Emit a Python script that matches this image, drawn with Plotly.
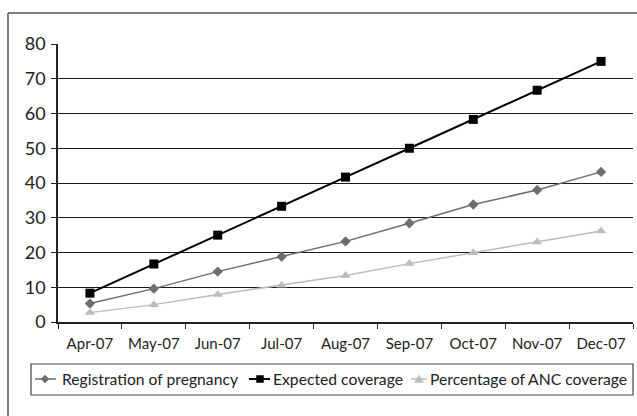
import plotly.graph_objects as go

months = ["Apr-07", "May-07", "Jun-07", "Jul-07", "Aug-07", "Sep-07", "Oct-07", "Nov-07", "Dec-07"]
registration = [5.3, 9.6, 14.5, 18.8, 23.2, 28.4, 33.8, 38.0, 43.2]
expected = [8.3, 16.7, 25.0, 33.3, 41.7, 50.0, 58.3, 66.7, 75.0]
anc = [2.7, 5.0, 7.9, 10.6, 13.4, 16.8, 19.9, 23.0, 26.2]
y_ticks = [0, 10, 20, 30, 40, 50, 60, 70, 80]
series_names = ["Registration of pregnancy", "Expected coverage", "Percentage of ANC coverage"]

W, H = 637, 416
L, R, T, B = 58, 4, 44, 94
pw, ph = W - L - R, H - T - B

def px(x):
    return (x - L) / pw

def py(y):
    return (H - B - y) / ph

REG_C, EXP_C, ANC_C = "#6e6e6e", "#000000", "#bcbcbc"

fig = go.Figure()
fig.add_trace(go.Scatter(x=months, y=registration, name=series_names[0],
                         mode="lines+markers",
                         line=dict(color=REG_C, width=1.5),
                         marker=dict(symbol="diamond", size=8, color=REG_C)))
fig.add_trace(go.Scatter(x=months, y=expected, name=series_names[1],
                         mode="lines+markers",
                         line=dict(color=EXP_C, width=2),
                         marker=dict(symbol="square", size=9, color=EXP_C)))
fig.add_trace(go.Scatter(x=months, y=anc, name=series_names[2],
                         mode="lines+markers",
                         line=dict(color=ANC_C, width=1.5),
                         marker=dict(symbol="triangle-up", size=9, color=ANC_C)))

font = "Lato, 'Open Sans', sans-serif"

# ---- manual legend (decoration in pixel positions) ----
ly = 379
shapes = [
    dict(type="line", xref="paper", yref="paper", x0=px(8), x1=px(637), y0=py(13), y1=py(13),
         line=dict(color="#555555", width=1.5)),
    dict(type="line", xref="paper", yref="paper", x0=px(8), x1=px(8), y0=py(13), y1=py(416),
         line=dict(color="#555555", width=1.5)),
    dict(type="rect", xref="paper", yref="paper", x0=px(31), x1=px(633), y0=py(364), y1=py(395),
         line=dict(color="#444444", width=1.2), fillcolor="rgba(0,0,0,0)"),
]

def pth(points):
    return "M" + " L".join(f"{px(a)},{py(b)}" for a, b in points) + " Z"

legend_items = [
    # (line x0, x1, marker center, text x, color, kind)
    (35, 56, 45, 60, REG_C, "diamond"),
    (249, 270, 260, 271, EXP_C, "square"),
    (411, 427, 419, 428, ANC_C, "triangle"),
]
annotations = []
for (x0, x1, cx, tx, col, kind), name in zip(legend_items, series_names):
    shapes.append(dict(type="line", xref="paper", yref="paper", x0=px(x0), x1=px(x1),
                       y0=py(ly), y1=py(ly), line=dict(color=col, width=1.5 if kind != "square" else 2)))
    if kind == "diamond":
        pts = [(cx, ly - 4), (cx + 4, ly), (cx, ly + 4), (cx - 4, ly)]
    elif kind == "square":
        pts = [(cx - 3.5, ly - 3.5), (cx + 3.5, ly - 3.5), (cx + 3.5, ly + 3.5), (cx - 3.5, ly + 3.5)]
    else:
        pts = [(cx, ly - 4), (cx + 4.5, ly + 3.5), (cx - 4.5, ly + 3.5)]
    shapes.append(dict(type="path", xref="paper", yref="paper", path=pth(pts),
                       fillcolor=col, line=dict(color=col, width=0.5)))
    annotations.append(dict(xref="paper", yref="paper", x=px(tx), y=py(ly), text=name,
                            showarrow=False, xanchor="left", yanchor="middle",
                            font=dict(size=15.7, color="#222222", family=font)))

fig.update_layout(
    width=W, height=H,
    margin=dict(l=L, r=R, t=T, b=B),
    paper_bgcolor="white", plot_bgcolor="white",
    font=dict(family=font, size=14, color="#222222"),
    xaxis=dict(type="category", showgrid=False, showline=True, linecolor="#222222", linewidth=1.5,
               ticks="outside", tickson="boundaries", ticklen=5, tickcolor="#222222",
               tickfont=dict(size=15), range=[-0.5, 8.5], automargin=False,
               ticklabelstandoff=7),
    yaxis=dict(range=[0, 80], tickvals=y_ticks, showgrid=True, gridcolor="#1a1a1a", gridwidth=1.4,
               showline=True, linecolor="#222222", linewidth=1.5, zeroline=False,
               ticks="outside", ticklen=5, tickcolor="#222222", tickfont=dict(size=18),
               automargin=False, ticklabelstandoff=2),
    showlegend=False,
    shapes=shapes,
    annotations=annotations,
)

fig.write_html("out.html", config={"displayModeBar": False},
               post_script="document.body.style.margin='0';document.body.style.overflow='hidden';")
